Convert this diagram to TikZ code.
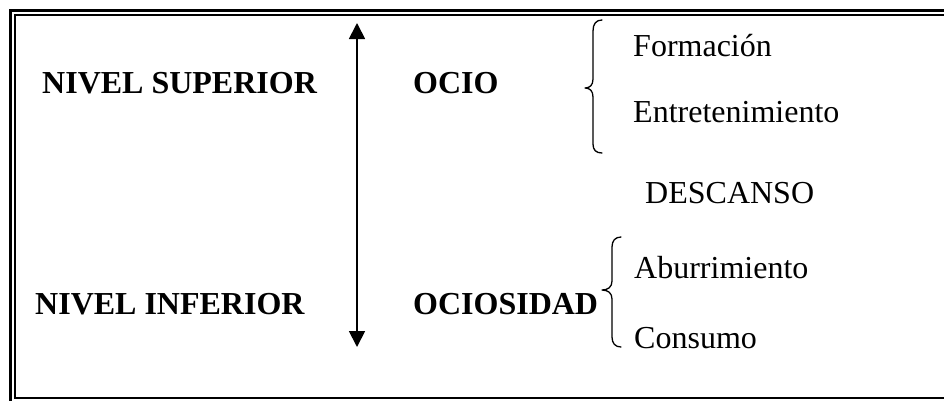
\documentclass[tikz,border=0pt]{standalone}
\usepackage{fontspec}
\setmainfont{Liberation Serif}
\usetikzlibrary{arrows.meta}
\begin{document}
\begin{tikzpicture}[x=1pt,y=-1pt,
  lbl/.style={inner sep=0pt,anchor=base west,font=\fontsize{32}{38}\selectfont},
  blbl/.style={lbl,font=\fontsize{32}{38}\selectfont\bfseries},
  brace/.style={line width=1.3pt,line cap=round,line join=round},
  axis/.style={line width=1.8pt,{Triangle[width=16pt,length=16pt]}-{Triangle[width=16pt,length=16pt]}}]
\useasboundingbox (0,0) rectangle (944,400);
\clip (0,0) rectangle (944,400);
% double frame
\draw[line width=3pt] (10,10) rectangle (970,420);
\draw[line width=2.3pt] (14.8,14.8) rectangle (960,398.2);
% texts
\node[blbl] (sup) at (42,93) {NIVEL SUPERIOR};
\node[blbl] (inf) at (35,314) {NIVEL INFERIOR};
\node[blbl] (ocio) at (413,93) {OCIO};
\node[blbl] (ociosidad) at (413,314) {OCIOSIDAD};
\node[lbl] (form) at (633,56) {Formación};
\node[lbl] (entr) at (633,122) {Entretenimiento};
\node[lbl] (desc) at (645,203) {DESCANSO};
\node[lbl] (abur) at (634,278) {Aburrimiento};
\node[lbl] (cons) at (634,348) {Consumo};
% vertical double arrow
\coordinate (atop) at (357,23);
\coordinate (abot) at (357,347);
\draw[axis] (abot) -- (atop);
% upper brace
\coordinate (ub1) at (602,20);
\coordinate (ubt) at (585,88);
\coordinate (ub2) at (602,153);
\draw[brace] (ub1) .. controls (596,20) and (593,24) .. (593,31) -- (593,79)
  .. controls (593,85) and (590,88) .. (ubt)
  .. controls (590,88) and (593,91) .. (593,97) -- (593,144)
  .. controls (593,150) and (596,153) .. (ub2);
% lower brace
\coordinate (lb1) at (621,237);
\coordinate (lbt) at (602,290);
\coordinate (lb2) at (621,347);
\draw[brace] (lb1) .. controls (615,237) and (612,241) .. (612,247) -- (612,281)
  .. controls (612,287) and (608,290) .. (lbt)
  .. controls (608,290) and (612,293) .. (612,299) -- (612,337)
  .. controls (612,343) and (615,347) .. (lb2);
\end{tikzpicture}
\end{document}
